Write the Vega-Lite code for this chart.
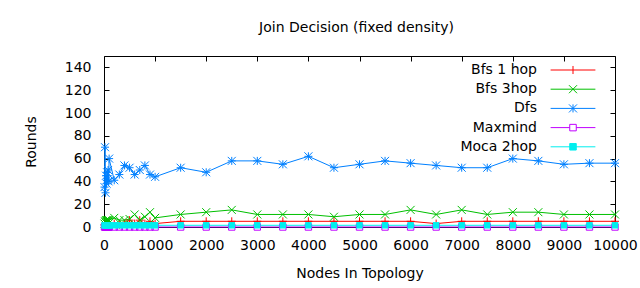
{
  "$schema": "https://vega.github.io/schema/vega-lite/v6.json",
  "width": 511,
  "height": 171,
  "autosize": {"type": "none"},
  "padding": {"left": 104, "top": 56, "right": 25, "bottom": 61},
  "title": {"text": "Join Decision (fixed density)", "font": "DejaVu Sans", "fontSize": 14, "fontWeight": "normal", "color": "#000000", "anchor": "middle", "offset": 21, "dx": -3},
  "config": {
    "view": {"stroke": "#000000", "strokeWidth": 1},
    "font": "DejaVu Sans",
    "axis": {"labelFont": "DejaVu Sans", "labelFontSize": 14, "labelColor": "#000000", "titleFont": "DejaVu Sans", "titleFontSize": 14, "titleFontWeight": "normal", "titleColor": "#000000", "tickColor": "#000000", "tickWidth": 1, "grid": false, "domain": false, "labelFlush": false, "labelOverlap": false}
  },
  "datasets": {
    "d": [
      {"n": 10, "Bfs 1 hop": 2, "Bfs 3hop": 3, "Dfs": 35, "Maxmind": 0, "Moca 2hop": 1.5},
      {"n": 20, "Bfs 1 hop": 3, "Bfs 3hop": 5, "Dfs": 70, "Maxmind": 0, "Moca 2hop": 1.5},
      {"n": 30, "Bfs 1 hop": 2, "Bfs 3hop": 4, "Dfs": 30, "Maxmind": 0, "Moca 2hop": 1.5},
      {"n": 40, "Bfs 1 hop": 3, "Bfs 3hop": 6, "Dfs": 45, "Maxmind": 0, "Moca 2hop": 1.5},
      {"n": 50, "Bfs 1 hop": 2, "Bfs 3hop": 5, "Dfs": 38, "Maxmind": 0, "Moca 2hop": 1.5},
      {"n": 60, "Bfs 1 hop": 3, "Bfs 3hop": 6, "Dfs": 48, "Maxmind": 0, "Moca 2hop": 1.5},
      {"n": 70, "Bfs 1 hop": 2, "Bfs 3hop": 4, "Dfs": 42, "Maxmind": 0, "Moca 2hop": 1.5},
      {"n": 80, "Bfs 1 hop": 3, "Bfs 3hop": 6, "Dfs": 50, "Maxmind": 0, "Moca 2hop": 1.5},
      {"n": 90, "Bfs 1 hop": 2, "Bfs 3hop": 5, "Dfs": 40, "Maxmind": 0, "Moca 2hop": 1.5},
      {"n": 100, "Bfs 1 hop": 3, "Bfs 3hop": 6, "Dfs": 60, "Maxmind": 0, "Moca 2hop": 1.5},
      {"n": 200, "Bfs 1 hop": 3, "Bfs 3hop": 8, "Dfs": 41, "Maxmind": 0, "Moca 2hop": 1.5},
      {"n": 300, "Bfs 1 hop": 2, "Bfs 3hop": 6, "Dfs": 46, "Maxmind": 0, "Moca 2hop": 1.5},
      {"n": 400, "Bfs 1 hop": 3, "Bfs 3hop": 6, "Dfs": 54, "Maxmind": 0, "Moca 2hop": 1.5},
      {"n": 500, "Bfs 1 hop": 6, "Bfs 3hop": 7, "Dfs": 52, "Maxmind": 0, "Moca 2hop": 1.5},
      {"n": 600, "Bfs 1 hop": 3, "Bfs 3hop": 11, "Dfs": 46, "Maxmind": 0, "Moca 2hop": 1.5},
      {"n": 700, "Bfs 1 hop": 6, "Bfs 3hop": 6, "Dfs": 50, "Maxmind": 0, "Moca 2hop": 1.5},
      {"n": 800, "Bfs 1 hop": 3, "Bfs 3hop": 9, "Dfs": 54, "Maxmind": 0, "Moca 2hop": 1.5},
      {"n": 900, "Bfs 1 hop": 5, "Bfs 3hop": 13, "Dfs": 46, "Maxmind": 0, "Moca 2hop": 1.5},
      {"n": 1000, "Bfs 1 hop": 3, "Bfs 3hop": 8, "Dfs": 44, "Maxmind": 0, "Moca 2hop": 1.5},
      {"n": 1500, "Bfs 1 hop": 5, "Bfs 3hop": 11, "Dfs": 52, "Maxmind": 0, "Moca 2hop": 1.5},
      {"n": 2000, "Bfs 1 hop": 5, "Bfs 3hop": 13, "Dfs": 48, "Maxmind": 0, "Moca 2hop": 1.5},
      {"n": 2500, "Bfs 1 hop": 5, "Bfs 3hop": 15, "Dfs": 58, "Maxmind": 0, "Moca 2hop": 1.5},
      {"n": 3000, "Bfs 1 hop": 5, "Bfs 3hop": 11, "Dfs": 58, "Maxmind": 0, "Moca 2hop": 1.5},
      {"n": 3500, "Bfs 1 hop": 5, "Bfs 3hop": 11, "Dfs": 55, "Maxmind": 0, "Moca 2hop": 1.5},
      {"n": 4000, "Bfs 1 hop": 5, "Bfs 3hop": 11, "Dfs": 62, "Maxmind": 0, "Moca 2hop": 1.5},
      {"n": 4500, "Bfs 1 hop": 5, "Bfs 3hop": 9, "Dfs": 52, "Maxmind": 0, "Moca 2hop": 1.5},
      {"n": 5000, "Bfs 1 hop": 5, "Bfs 3hop": 11, "Dfs": 55, "Maxmind": 0, "Moca 2hop": 1.5},
      {"n": 5500, "Bfs 1 hop": 5, "Bfs 3hop": 11, "Dfs": 58, "Maxmind": 0, "Moca 2hop": 1.5},
      {"n": 6000, "Bfs 1 hop": 5, "Bfs 3hop": 15, "Dfs": 56, "Maxmind": 0, "Moca 2hop": 1.5},
      {"n": 6500, "Bfs 1 hop": 3, "Bfs 3hop": 11, "Dfs": 54, "Maxmind": 0, "Moca 2hop": 1.5},
      {"n": 7000, "Bfs 1 hop": 5, "Bfs 3hop": 15, "Dfs": 52, "Maxmind": 0, "Moca 2hop": 1.5},
      {"n": 7500, "Bfs 1 hop": 5, "Bfs 3hop": 11, "Dfs": 52, "Maxmind": 0, "Moca 2hop": 1.5},
      {"n": 8000, "Bfs 1 hop": 5, "Bfs 3hop": 13, "Dfs": 60, "Maxmind": 0, "Moca 2hop": 1.5},
      {"n": 8500, "Bfs 1 hop": 5, "Bfs 3hop": 13, "Dfs": 58, "Maxmind": 0, "Moca 2hop": 1.5},
      {"n": 9000, "Bfs 1 hop": 5, "Bfs 3hop": 11, "Dfs": 55, "Maxmind": 0, "Moca 2hop": 1.5},
      {"n": 9500, "Bfs 1 hop": 5, "Bfs 3hop": 11, "Dfs": 56, "Maxmind": 0, "Moca 2hop": 1.5},
      {"n": 10000, "Bfs 1 hop": 5, "Bfs 3hop": 11, "Dfs": 56, "Maxmind": 0, "Moca 2hop": 1.5}
    ]
  },
  "data": {"name": "d"},
  "transform": [{"fold": ["Bfs 1 hop", "Bfs 3hop", "Dfs", "Maxmind", "Moca 2hop"], "as": ["series", "rounds"]}],
  "layer": [
    {
      "mark": {"type": "line", "strokeWidth": 1},
      "encoding": {
        "x": {"field": "n", "type": "quantitative", "scale": {"domain": [0, 10000], "nice": false, "zero": false},
          "axis": {"orient": "bottom", "values": [0, 1000, 2000, 3000, 4000, 5000, 6000, 7000, 8000, 9000, 10000], "format": "d", "title": "Nodes In Topology", "tickSize": -5, "labelPadding": 16, "titlePadding": 14}},
        "y": {"field": "rounds", "type": "quantitative", "scale": {"domain": [0, 150], "nice": false, "zero": false},
          "axis": {"orient": "left", "values": [0, 20, 40, 60, 80, 100, 120, 140], "format": "d", "title": "Rounds", "tickSize": -5, "labelPadding": 18, "titlePadding": 26}},
        "color": {"field": "series", "type": "nominal",
          "scale": {"domain": ["Bfs 1 hop", "Bfs 3hop", "Dfs", "Maxmind", "Moca 2hop"], "range": ["#ff0000", "#00c000", "#0080ff", "#c000ff", "#00eeee"]},
          "legend": {"orient": "none", "legendX": 462, "legendY": 7, "title": null, "padding": 0, "rowPadding": 5.2, "labelFont": "DejaVu Sans", "labelFontSize": 14, "labelColor": "#000000", "labelAlign": "right", "labelOffset": -43, "labelLimit": 0, "symbolSize": 49, "symbolStrokeWidth": 1, "symbolOffset": 0,
            "encode": {"symbols": {"update": {
              "shape": {"signal": "datum.value === 'Bfs 1 hop' ? 'M-6.4,0H6.4M0,-1.15V1.15' : datum.value === 'Bfs 3hop' ? 'M-6.4,0H6.4M-1.15,-1.15L1.15,1.15M-1.15,1.15L1.15,-1.15' : datum.value === 'Dfs' ? 'M-6.4,0H6.4M0,-1.15V1.15M-1.15,-1.15L1.15,1.15M-1.15,1.15L1.15,-1.15' : datum.value === 'Maxmind' ? 'M-6.4,0H-0.93M0.93,0H6.4M-0.93,-0.93H0.93V0.93H-0.93Z' : 'M-6.4,0H6.4M-0.93,-0.93H0.93V0.93H-0.93Z'"},
              "fill": {"signal": "datum.value === 'Moca 2hop' ? '#00eeee' : 'transparent'"},
              "opacity": {"value": 1}
            }}}}
        }
      }
    },
    {
      "transform": [{"filter": "datum.series === 'Bfs 1 hop'"}],
      "mark": {"type": "point", "shape": "M-1,0H1M0,-1V1", "filled": false, "strokeWidth": 1, "size": 64, "opacity": 1, "color": "#ff0000"},
      "encoding": {
        "x": {"field": "n", "type": "quantitative", "axis": null},
        "y": {"field": "rounds", "type": "quantitative", "axis": null}
      }
    },
    {
      "transform": [{"filter": "datum.series === 'Bfs 3hop'"}],
      "mark": {"type": "point", "shape": "M-1,-1L1,1M-1,1L1,-1", "filled": false, "strokeWidth": 1, "size": 64, "opacity": 1, "color": "#00c000"},
      "encoding": {
        "x": {"field": "n", "type": "quantitative", "axis": null},
        "y": {"field": "rounds", "type": "quantitative", "axis": null}
      }
    },
    {
      "transform": [{"filter": "datum.series === 'Dfs'"}],
      "mark": {"type": "point", "shape": "M-1,0H1M0,-1V1M-1,-1L1,1M-1,1L1,-1", "filled": false, "strokeWidth": 1, "size": 64, "opacity": 1, "color": "#0080ff"},
      "encoding": {
        "x": {"field": "n", "type": "quantitative", "axis": null},
        "y": {"field": "rounds", "type": "quantitative", "axis": null}
      }
    },
    {
      "transform": [{"filter": "datum.series === 'Maxmind'"}],
      "mark": {"type": "point", "shape": "M-0.8,-0.8H0.8V0.8H-0.8Z", "filled": false, "strokeWidth": 1, "size": 64, "opacity": 1, "color": "#c000ff"},
      "encoding": {
        "x": {"field": "n", "type": "quantitative", "axis": null},
        "y": {"field": "rounds", "type": "quantitative", "axis": null}
      }
    },
    {
      "transform": [{"filter": "datum.series === 'Moca 2hop'"}],
      "mark": {"type": "point", "shape": "square", "filled": true, "size": 42, "color": "#00eeee", "opacity": 1},
      "encoding": {
        "x": {"field": "n", "type": "quantitative", "axis": null},
        "y": {"field": "rounds", "type": "quantitative", "axis": null}
      }
    },
    {
      "transform": [{"filter": "datum.series === 'Maxmind'"}],
      "mark": {"type": "point", "opacity": 0},
      "encoding": {
        "x": {"field": "n", "type": "quantitative", "axis": {"orient": "top", "labels": false, "title": null, "tickSize": -5, "values": [0, 1000, 2000, 3000, 4000, 5000, 6000, 7000, 8000, 9000, 10000]}},
        "y": {"field": "rounds", "type": "quantitative", "axis": {"orient": "right", "labels": false, "title": null, "tickSize": -5, "values": [0, 20, 40, 60, 80, 100, 120, 140]}}
      }
    }
  ],
  "resolve": {"axis": {"x": "independent", "y": "independent"}}
}
